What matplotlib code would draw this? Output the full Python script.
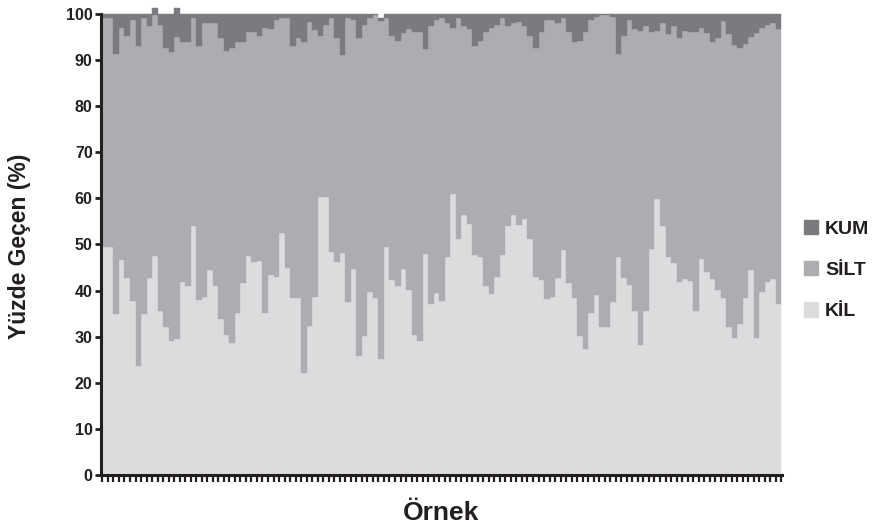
import numpy as np
import matplotlib.pyplot as plt
from matplotlib.patches import Patch

plt.rcParams['font.family'] = ['Liberation Sans', 'DejaVu Sans']
plt.rcParams['font.weight'] = 'bold'

# KIL yuzdesi (alt)
kil = [49.4, 49.4, 34.9, 46.6, 42.7, 37.7, 23.7, 34.9, 42.7, 47.6,
       35.6, 32.0, 29.1, 29.5, 41.9, 40.9, 54.1, 38.0, 38.7, 44.5,
       40.9, 33.8, 30.4, 28.7, 35.1, 41.6, 47.6, 46.3, 46.5, 35.2,
       43.4, 43.0, 52.6, 44.8, 38.3, 38.3, 22.1, 32.3, 38.7, 60.2, 60.2,
       48.4, 46.3, 48.1, 37.6, 44.7, 25.9, 30.2, 39.8, 38.3, 25.2,
       49.4, 42.3, 40.9, 44.7, 40.1, 30.4, 29.1, 47.9, 37.0, 39.4, 37.7,
       47.2, 60.9, 51.2, 56.5, 54.4, 47.7, 47.2, 40.9, 39.2, 43.0,
       47.7, 54.1, 56.3, 54.2, 55.5, 51.2, 43.0, 42.2, 38.1, 38.7, 42.7,
       48.7, 41.6, 38.3, 30.2, 27.3, 35.1, 39.0, 32.0, 32.0, 37.6,
       47.2, 42.7, 41.2, 35.6, 28.1, 35.6, 49.0, 59.8, 54.1, 47.2, 45.9,
       41.9, 42.5, 42.1, 35.6, 46.9, 44.1, 42.5, 40.1, 38.3, 32.0,
       29.8, 32.7, 38.3, 44.5, 29.8, 39.6, 41.9, 42.5, 37.2]

# KIL + SILT (silt ust siniri)
kil_silt = [99.1, 99.1, 91.3, 96.9, 95.2, 98.7, 93.1, 99.1, 97.5, 99.8,
            97.6, 92.6, 91.7, 95.1, 93.9, 93.9, 99.1, 93.1, 98.0, 98.0,
            98.0, 94.7, 92.0, 92.7, 93.9, 93.9, 96.2, 96.2, 95.2, 96.9,
            96.7, 98.7, 99.1, 99.1, 93.1, 94.7, 94.0, 98.3, 96.5, 95.3, 97.6,
            99.1, 94.7, 91.0, 99.1, 98.7, 94.9, 97.6, 99.1, 99.8, 98.5,
            99.1, 95.2, 94.1, 95.8, 96.7, 96.2, 96.2, 92.4, 97.3, 98.7, 99.1,
            98.0, 97.0, 99.1, 97.5, 96.7, 93.1, 94.1, 96.2, 96.9, 97.6,
            99.1, 97.5, 98.0, 98.3, 97.5, 95.3, 92.7, 96.2, 98.7, 98.7, 98.0,
            99.1, 96.0, 93.9, 94.1, 96.0, 98.7, 99.4, 99.8, 99.8, 99.4,
            91.3, 95.2, 98.7, 96.7, 96.3, 97.3, 96.0, 96.3, 98.0, 95.6, 97.3,
            94.7, 96.3, 96.2, 96.2, 96.9, 95.8, 94.0, 94.9, 98.5, 95.6,
            93.3, 92.6, 93.6, 95.1, 95.8, 96.9, 97.6, 98.0, 96.7]

# toplam (KIL + SILT + KUM)
toplam = [100, 100, 100, 100, 100, 100, 100, 100, 100, 101.2,
          100, 100, 100, 101.2, 100, 100, 100, 100, 100, 100,
          100, 100, 100, 100, 100, 100, 100, 100, 100, 100,
          100, 100, 100, 100, 100, 100, 100, 100, 100, 100, 100,
          100, 100, 100, 100, 100, 100, 100, 100, 100, 99.2,
          100, 100, 100, 100, 100, 100, 100, 100, 100, 100, 100,
          100, 100, 100, 100, 100, 100, 100, 100, 100, 100,
          100, 100, 100, 100, 100, 100, 100, 100, 100, 100, 100,
          100, 100, 100, 100, 100, 100, 100, 100, 100, 100,
          100, 100, 100, 100, 100, 100, 100, 100, 100, 100, 100,
          100, 100, 100, 100, 100, 100, 100, 100, 100, 100,
          100, 100, 100, 100, 100, 100, 100, 100, 100]

silt = np.array(kil_silt) - np.array(kil)
kum = np.array(toplam) - np.array(kil_silt)
x = np.arange(len(kil))

c_kil, c_silt, c_kum = '#dcdcde', '#acadb0', '#797b7e'
koyu = '#231f20'

fig = plt.figure(figsize=(8.73, 5.27), dpi=100)
ax = fig.add_axes([101/873, 1-475/527, 681/873, 461/527])

ax.bar(x, kil, width=1.0, color=c_kil, edgecolor=c_kil, linewidth=0.3, clip_on=False)
ax.bar(x, silt, width=1.0, bottom=kil, color=c_silt, edgecolor=c_silt, linewidth=0.3, clip_on=False)
ax.bar(x, kum, width=1.0, bottom=kil_silt, color=c_kum, edgecolor=c_kum, linewidth=0.3, clip_on=False)

ax.set_xlim(-0.75, len(kil) - 0.4)
ax.set_ylim(0, 100)
ax.set_yticks(np.arange(0, 101, 10))
ax.set_xticks(np.arange(-0.5, len(kil), 1))
ax.set_xticklabels([])

for s in ['top', 'right']:
    ax.spines[s].set_visible(False)
for s in ['left', 'bottom']:
    ax.spines[s].set_linewidth(2.2)
    ax.spines[s].set_color(koyu)
ax.spines['bottom'].set_zorder(5)

ax.tick_params(axis='y', direction='out', length=4, width=2, color=koyu,
               labelsize=11.5, labelcolor=koyu, pad=2)
ax.tick_params(axis='x', direction='out', length=5, width=1.6, color=koyu)

fig.text(20/873, 1-246/527, 'Yüzde Geçen (%)', rotation=90, ha='center', va='center',
         fontsize=16.5, fontweight='bold', color=koyu)
fig.text(441/873, 1-513/527, 'Örnek', ha='center', va='center',
         fontsize=19, fontweight='bold', color=koyu)

handles = [Patch(color=c_kum), Patch(color=c_silt), Patch(color=c_kil)]
fig.legend(handles, ['KUM', 'SİLT', 'KİL'], loc='center left',
           bbox_to_anchor=(786/873, 1-270/527), frameon=False,
           handlelength=0.75, handleheight=0.75, handletextpad=0.35,
           labelspacing=1.2, prop={'size': 14, 'weight': 'bold'},
           labelcolor=koyu)

fig.savefig('out.png', dpi=100)
